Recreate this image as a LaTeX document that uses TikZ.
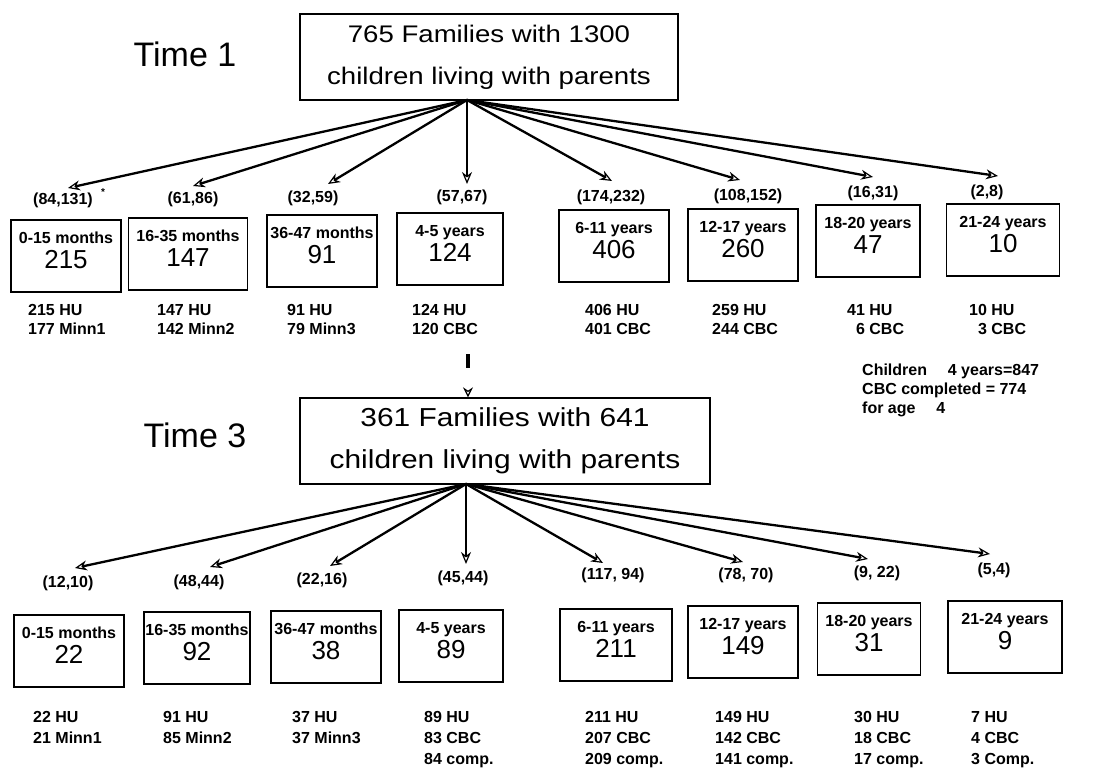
\documentclass[tikz,border=0pt]{standalone}
\usepackage{fontspec}
\setmainfont{Liberation Sans}
\newfontfamily\widefont[FakeStretch=1.15]{Liberation Sans}
\usetikzlibrary{arrows.meta}
\tikzset{
    main-box/.style = {draw, line width=1.3pt, rectangle, align=center, inner sep=0pt, minimum height=86pt, font=\widefont\fontsize{24}{42}\selectfont},
    time-label/.style = {font=\fontsize{34}{40}\selectfont},
    age-box/.style = {draw, line width=1.3pt, rectangle, align=center, minimum width=110pt, minimum height=72pt, inner sep=1pt, text depth=12pt, font=\fontsize{16}{22}\selectfont},
    count-label/.style = {font=\bfseries\fontsize{16}{18}\selectfont},
    sub-label/.style = {anchor=north west, align=left, inner sep=0pt, font=\bfseries\fontsize{16}{19}\selectfont},
    sub-label-wide/.style = {sub-label, font=\bfseries\fontsize{16}{21}\selectfont},
    fan-arrow/.style = {line width=2.3pt, -{Stealth[length=12pt,width=10pt,open,line width=1.2pt]}},
}
\newcommand{\agebox}[2]{{\bfseries #1}\\[3pt]{\fontsize{26}{26}\selectfont #2}}

\begin{document}
\begin{tikzpicture}[x=1pt, y=-1pt]
\useasboundingbox (0,0) rectangle (1095,770);

\node[time-label] (time1) at (185,54) {Time 1};
\node[main-box, minimum width=378pt] (t1) at (489,57) {765 Families with 1300\\children living with parents};
\coordinate (hub1) at (467,100);

\node[count-label] (n1) at (63,200) {(84,131)};
\node[font=\bfseries\fontsize{10}{10}\selectfont] (star) at (103,192) {*};
\node[count-label] (n2) at (193,199) {(61,86)};
\node[count-label] (n3) at (313,198) {(32,59)};
\node[count-label] (n4) at (462,197) {(57,67)};
\node[count-label] (n5) at (611,197) {(174,232)};
\node[count-label] (n6) at (748,196) {(108,152)};
\node[count-label] (n7) at (873,193) {(16,31)};
\node[count-label] (n8) at (987,192) {(2,8)};

\coordinate (p1) at (68,188);
\coordinate (p2) at (193,186);
\coordinate (p3) at (328,184);
\coordinate (p4) at (467,184);
\coordinate (p5) at (612,181);
\coordinate (p6) at (740,180);
\coordinate (p7) at (873,177);
\coordinate (p8) at (998,176);
\draw[fan-arrow] (hub1) -- (p1);
\draw[fan-arrow] (hub1) -- (p2);
\draw[fan-arrow] (hub1) -- (p3);
\draw[fan-arrow] (hub1) -- (p4);
\draw[fan-arrow] (hub1) -- (p5);
\draw[fan-arrow] (hub1) -- (p6);
\draw[fan-arrow] (hub1) -- (p7);
\draw[fan-arrow] (hub1) -- (p8);

\node[age-box] (a1) at (66,256) {\agebox{0-15 months}{215}};
\node[age-box, minimum width=119pt] (a2) at (188,254) {\agebox{16-35 months}{147}};
\node[age-box] (a3) at (322,251) {\agebox{36-47 months}{91}};
\node[age-box, minimum width=106pt] (a4) at (450,249) {\agebox{4-5 years}{124}};
\node[age-box] (a5) at (614,246) {\agebox{6-11 years}{406}};
\node[age-box] (a6) at (743,245) {\agebox{12-17 years}{260}};
\node[age-box, minimum width=104pt] (a7) at (868,241) {\agebox{18-20 years}{47}};
\node[age-box, minimum width=113pt] (a8) at (1003,240) {\agebox{21-24 years}{10}};

\node[sub-label] (h1) at (28,304) {215 HU\\177 Minn1};
\node[sub-label] (h2) at (157,304) {147 HU\\142 Minn2};
\node[sub-label] (h3) at (287,304) {91 HU\\79 Minn3};
\node[sub-label] (h4) at (412,304) {124 HU\\120 CBC};
\node[sub-label] (h5) at (585,304) {406 HU\\401 CBC};
\node[sub-label] (h6) at (712,304) {259 HU\\244 CBC};
\node[sub-label] (h7) at (847,304) {41 HU\\\phantom{4}6 CBC};
\node[sub-label] (h8) at (969,304) {10 HU\\\phantom{1}3 CBC};

\node[sub-label] (note) at (862,364) {Children\hspace{1.3em}4 years=847\\CBC completed = 774\\for age\hspace{1.3em}4};

\node[time-label] (time3) at (195,435) {Time 3};
\node[main-box, minimum width=410pt, font=\widefont\fontsize{26}{42}\selectfont] (t3) at (505,441) {361 Families with 641\\children living with parents};
\coordinate (hub2) at (466,484);
\coordinate (drop) at (468,354);
\draw[line width=3.2pt, dash pattern=on 14pt off 40pt, -{Stealth[length=10pt,width=10pt,open,line width=1.2pt]}] (drop) -- (t3.north -| drop);

\node[count-label] (m1) at (68,583) {(12,10)};
\node[count-label] (m2) at (199,582) {(48,44)};
\node[count-label] (m3) at (322,580) {(22,16)};
\node[count-label] (m4) at (463,578) {(45,44)};
\node[count-label] (m5) at (613,575) {(117, 94)};
\node[count-label] (m6) at (746,575) {(78, 70)};
\node[count-label] (m7) at (877,573) {(9, 22)};
\node[count-label] (m8) at (994,570) {(5,4)};

\coordinate (q1) at (75,568);
\coordinate (q2) at (210,567);
\coordinate (q3) at (330,566);
\coordinate (q4) at (466,564);
\coordinate (q5) at (603,563);
\coordinate (q6) at (743,562);
\coordinate (q7) at (868,559);
\coordinate (q8) at (990,554);
\draw[fan-arrow] (hub2) -- (q1);
\draw[fan-arrow] (hub2) -- (q2);
\draw[fan-arrow] (hub2) -- (q3);
\draw[fan-arrow] (hub2) -- (q4);
\draw[fan-arrow] (hub2) -- (q5);
\draw[fan-arrow] (hub2) -- (q6);
\draw[fan-arrow] (hub2) -- (q7);
\draw[fan-arrow] (hub2) -- (q8);

\node[age-box] (c1) at (69,651) {\agebox{0-15 months}{22}};
\node[age-box, minimum width=106pt] (c2) at (197,648) {\agebox{16-35 months}{92}};
\node[age-box] (c3) at (326,647) {\agebox{36-47 months}{38}};
\node[age-box, minimum width=104pt] (c4) at (451,646) {\agebox{4-5 years}{89}};
\node[age-box, minimum width=112pt] (c5) at (616,645) {\agebox{6-11 years}{211}};
\node[age-box] (c6) at (743,642) {\agebox{12-17 years}{149}};
\node[age-box, minimum width=103pt] (c7) at (869,639) {\agebox{18-20 years}{31}};
\node[age-box, minimum width=114pt] (c8) at (1005,637) {\agebox{21-24 years}{9}};

\node[sub-label-wide] (k1) at (33,711) {22 HU\\21 Minn1};
\node[sub-label-wide] (k2) at (163,711) {91 HU\\85 Minn2};
\node[sub-label-wide] (k3) at (292,711) {37 HU\\37 Minn3};
\node[sub-label-wide] (k4) at (424,711) {89 HU\\83 CBC\\84 comp.};
\node[sub-label-wide] (k5) at (585,711) {211 HU\\207 CBC\\209 comp.};
\node[sub-label-wide] (k6) at (715,711) {149 HU\\142 CBC\\141 comp.};
\node[sub-label-wide] (k7) at (854,711) {30 HU\\18 CBC\\17 comp.};
\node[sub-label-wide] (k8) at (971,711) {7 HU\\4 CBC\\3 Comp.};
\end{tikzpicture}
\end{document}
